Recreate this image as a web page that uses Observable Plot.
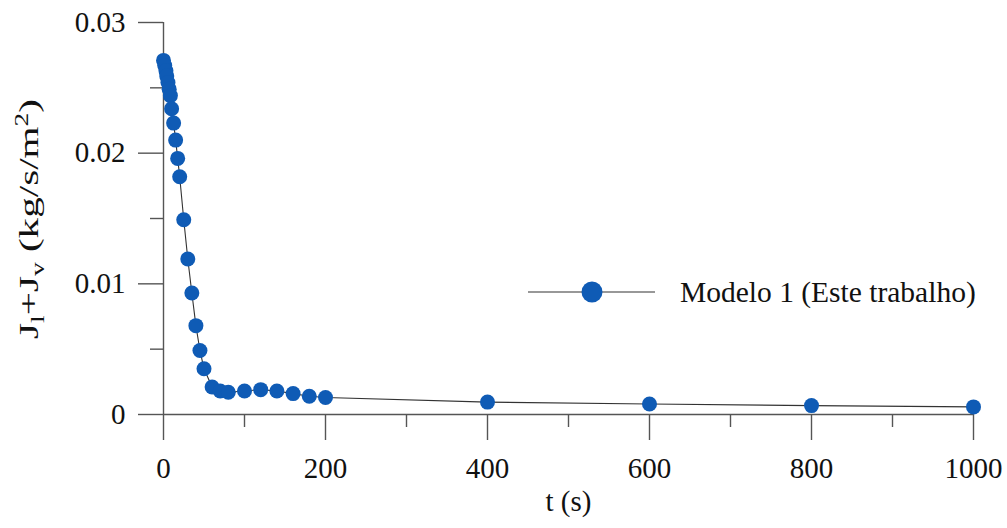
<!DOCTYPE html>
<html>
<head>
<meta charset="utf-8">
<script src="https://cdn.jsdelivr.net/npm/d3@7"></script>
<script src="https://cdn.jsdelivr.net/npm/@observablehq/plot@0.6"></script>
<style>
  body { margin: 0; background: #fff; }
</style>
</head>
<body>
<div id="chart"></div>
<script>
// Total mass flux (liquid + vapour) over time
const time = [0, 1.5, 3, 4, 5.5, 7, 8.5, 10, 12.5, 15, 17.5, 20, 25, 30, 35, 40, 45, 50, 60, 70, 80,
              100, 120, 140, 160, 180, 200, 400, 600, 800, 1000];
const flux = [0.0271, 0.0267, 0.0263, 0.0259, 0.0254, 0.0249, 0.0244, 0.0234, 0.0223, 0.0210, 0.0196, 0.0182,
              0.0149, 0.0119, 0.0093, 0.0068, 0.0049, 0.0035, 0.0021, 0.0018, 0.0017,
              0.0018, 0.0019, 0.0018, 0.0016, 0.0014, 0.0013, 0.00095, 0.0008, 0.00068, 0.00058];

const xTicks = [0, 200, 400, 600, 800, 1000];
const xMinorTicks = [100, 300, 500, 700, 900];
const yTicks = [0, 0.01, 0.02, 0.03];
const yMinorTicks = [0.005, 0.015, 0.025];

const seriesName = "Modelo 1 (Este trabalho)";
const xLabel = "t (s)";

const data = time.map((t, i) => ({t, j: flux[i]}));

const font = "Liberation Serif, Times New Roman, serif";
const blue = "#0f5bb5";
const axisColor = "#555";
const textColor = "#111";
const yFormat = d => d === 0 ? "0" : d3.format(".2f")(d);

const chart = Plot.plot({
  width: 1007,
  height: 528,
  marginLeft: 163,
  marginRight: 34,
  marginTop: 22,
  marginBottom: 114,
  style: {fontFamily: font, fontSize: "29px", color: textColor, background: "#fff"},
  x: {domain: [0, 1000]},
  y: {domain: [0, 0.03]},
  marks: [
    // tick lines (major and minor), no labels
    Plot.axisX({ticks: xTicks, tickSize: 26, tickFormat: () => "", stroke: axisColor, strokeWidth: 1.4, label: null}),
    Plot.axisX({ticks: xMinorTicks, tickSize: 13, tickFormat: () => "", stroke: axisColor, strokeWidth: 1.4, label: null}),
    Plot.axisY({ticks: yTicks, tickSize: 25, tickFormat: () => "", stroke: axisColor, strokeWidth: 1.4, label: null}),
    Plot.axisY({ticks: yMinorTicks, tickSize: 13, tickFormat: () => "", stroke: axisColor, strokeWidth: 1.4, label: null}),
    // tick labels
    Plot.axisX({ticks: xTicks, tickSize: 0, tickPadding: 43, fontSize: 29, fill: textColor, tickFormat: d => String(d), label: null}),
    Plot.axisY({ticks: yTicks, tickSize: 0, tickPadding: 38, fontSize: 29, fill: textColor, tickFormat: yFormat, label: null}),
    // axis lines
    Plot.ruleX([0], {stroke: axisColor, strokeWidth: 1.4}),
    Plot.ruleY([0], {stroke: axisColor, strokeWidth: 1.4}),
    // series
    Plot.line(data, {x: "t", y: "j", stroke: "#333", strokeWidth: 1.1}),
    Plot.dot(data, {x: "t", y: "j", r: 7.5, fill: blue}),
    Plot.text([xLabel], {frameAnchor: "bottom", dy: 96, fontSize: 29, fill: textColor})
  ]
});

document.getElementById("chart").appendChild(chart);

const svg = d3.select(chart);

// Y axis title with subscripts and superscript
const yTitle = svg.append("text")
  .attr("transform", "translate(38,219) rotate(-90)")
  .attr("text-anchor", "middle")
  .attr("font-family", font)
  .attr("font-size", 27)
  .attr("fill", textColor)
  .attr("textLength", 240)
  .attr("lengthAdjust", "spacingAndGlyphs");
yTitle.append("tspan").text("J");
yTitle.append("tspan").attr("font-size", 18).attr("dy", 6).text("l");
yTitle.append("tspan").attr("dy", -6).text("+J");
yTitle.append("tspan").attr("font-size", 18).attr("dy", 6).text("v");
yTitle.append("tspan").attr("dy", -6).text(" (kg/s/m");
yTitle.append("tspan").attr("font-size", 18).attr("dy", -10).text("2");
yTitle.append("tspan").attr("dy", 10).text(")");

// Legend: line with marker and series name
const legend = svg.append("g").attr("transform", "translate(528,292)");
legend.append("line").attr("x1", 0).attr("x2", 127).attr("y1", 0).attr("y2", 0)
  .attr("stroke", "#333").attr("stroke-width", 1.1);
legend.append("circle").attr("cx", 64).attr("cy", 0).attr("r", 10.5).attr("fill", blue);
legend.append("text").attr("x", 152).attr("y", 10)
  .attr("text-anchor", "start")
  .attr("font-family", font)
  .attr("font-size", 29.5).attr("fill", textColor).text(seriesName);
</script>
</body>
</html>
